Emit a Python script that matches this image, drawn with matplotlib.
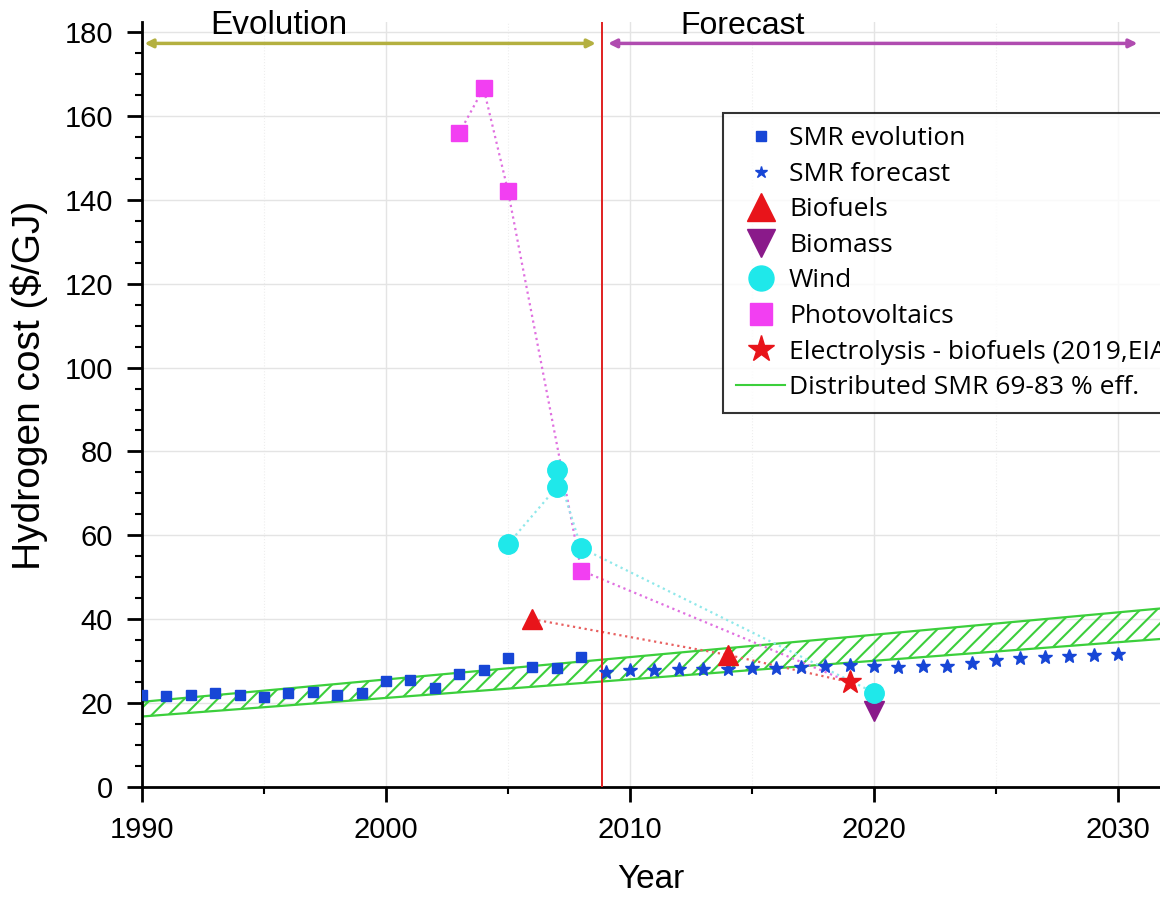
import numpy as np
import matplotlib
matplotlib.use("Agg")
import matplotlib.pyplot as plt
from matplotlib.lines import Line2D

# --- data ---
smr_evo_years = list(range(1990, 2009))
smr_evo_cost = [21.9, 21.7, 21.9, 22.4, 21.9, 21.4, 22.4, 22.7, 21.9, 22.4,
                25.2, 25.6, 23.6, 26.9, 27.8, 30.7, 28.7, 28.3, 31.1]

smr_fc_years = list(range(2009, 2031))
smr_fc_cost = [27.3, 27.9, 27.9, 28.1, 28.1, 28.1, 28.4, 28.4, 28.7, 28.9, 29.2,
               28.9, 28.7, 28.9, 28.9, 29.5, 30.3, 30.7, 31.1, 31.3, 31.4, 31.7]

biofuel_years = [2006, 2014]
biofuel_cost = [40.0, 31.5]

biomass_years = [2020]
biomass_cost = [18.0]

wind_years = [2005, 2007, 2007, 2008, 2020]
wind_cost = [57.9, 71.5, 75.6, 57.0, 22.5]

pv_years = [2003, 2004, 2005, 2008]
pv_cost = [155.9, 166.6, 142.1, 51.6]

elec_years = [2019]
elec_cost = [25.0]

band_years = [1990, 2032]
band_low = [16.8, 35.4]
band_high = [20.3, 42.7]

split_year = 2008.85

plt.rcParams['font.family'] = ['Liberation Sans', 'DejaVu Sans']
plt.rcParams['hatch.linewidth'] = 1.5

fig = plt.figure(figsize=(11.6, 9), dpi=100)
ax = fig.add_axes([0.1224, 0.1256, 0.8776, 0.8504])

c_blue = '#1746d6'
c_pink = '#f23ff2'
c_cyan = '#1fe8ea'
c_red = '#e8141a'
c_purple = '#8a1a8a'
c_green = '#3ccf3c'

# hatched band
ax.fill_between(band_years, band_low, band_high, facecolor='none',
                edgecolor=c_green, hatch='//', linewidth=0, zorder=2)
ax.plot(band_years, band_low, color=c_green, lw=1.6, zorder=2)
ax.plot(band_years, band_high, color=c_green, lw=1.6, zorder=2)

# dotted connectors
ax.plot(pv_years + elec_years, pv_cost + elec_cost, ':', color='#e070e0', lw=1.6, zorder=3)
ax.plot(wind_years, wind_cost, ':', color='#8fe8ea', lw=1.6, zorder=3)
ax.plot(biofuel_years + elec_years, biofuel_cost + elec_cost, ':', color='#e86060', lw=1.6, zorder=3)

ax.plot(smr_evo_years, smr_evo_cost, 's', color=c_blue, ms=7, ls='none', zorder=4)
ax.plot(smr_fc_years, smr_fc_cost, '*', color=c_blue, ms=10, ls='none', zorder=4)
ax.plot(biofuel_years, biofuel_cost, '^', color=c_red, ms=14, ls='none', zorder=4)
ax.plot(biomass_years, biomass_cost, 'v', color=c_purple, ms=14, ls='none', zorder=4)
ax.plot(wind_years, wind_cost, 'o', color=c_cyan, ms=14, ls='none', zorder=4)
ax.plot(pv_years, pv_cost, 's', color=c_pink, ms=12, ls='none', zorder=4)
ax.plot(elec_years, elec_cost, '*', color=c_red, ms=17, ls='none', zorder=4)

ax.axvline(split_year, color='#e02020', lw=1.4, zorder=3)

# period arrows
ax.annotate('', xy=(1990.1, 177.3), xytext=(split_year - 0.25, 177.3),
            arrowprops=dict(arrowstyle='<|-|>', color='#b4b040', lw=2.5,
                            mutation_scale=12, shrinkA=0, shrinkB=0))
ax.annotate('', xy=(split_year + 0.25, 177.3), xytext=(2030.8, 177.3),
            arrowprops=dict(arrowstyle='<|-|>', color='#b04cb0', lw=2.5,
                            mutation_scale=12, shrinkA=0, shrinkB=0))
ax.text(1995.6, 181.5, 'Evolution', fontsize=24, ha='center', va='center', clip_on=False)
ax.text(2014.6, 181.5, 'Forecast', fontsize=23, ha='center', va='center', clip_on=False)

ax.set_xlim(1990, 2031.72)
ax.set_ylim(0, 182.5)
ax.set_xticks([1990, 2000, 2010, 2020, 2030])
ax.set_xticks(np.arange(1995, 2031, 10), minor=True)
ax.set_yticks(np.arange(0, 181, 20))
ax.set_yticks(np.arange(0, 181, 5), minor=True)

ax.grid(True, which='major', color='#e4e4e4', lw=1.0, zorder=0)
ax.grid(True, which='minor', axis='x', color='#eeeeee', lw=0.8, ls=':', zorder=0)
ax.set_axisbelow(True)

for side in ['top', 'right']:
    ax.spines[side].set_visible(False)
for side in ['left', 'bottom']:
    ax.spines[side].set_linewidth(2)

ax.tick_params(which='major', direction='out', length=11, width=2, labelsize=21)
ax.tick_params(axis='y', which='major', pad=10)
ax.tick_params(axis='x', which='major', pad=10)
ax.tick_params(which='minor', direction='out', length=5, width=1.5)
ax.set_xlabel('Year', fontsize=24, labelpad=14)
ax.set_ylabel('Hydrogen cost ($/GJ)', fontsize=28)
ax.yaxis.set_label_coords(-0.092, 0.525)

handles = [
    Line2D([], [], marker='s', color=c_blue, ls='none', ms=7),
    Line2D([], [], marker='*', color=c_blue, ls='none', ms=9),
    Line2D([], [], marker='^', color=c_red, ls='none', ms=20),
    Line2D([], [], marker='v', color=c_purple, ls='none', ms=20),
    Line2D([], [], marker='o', color=c_cyan, ls='none', ms=18),
    Line2D([], [], marker='s', color=c_pink, ls='none', ms=16),
    Line2D([], [], marker='*', color=c_red, ls='none', ms=20),
    Line2D([], [], color=c_green, lw=1.5),
]
labels = ['SMR evolution', 'SMR forecast', 'Biofuels', 'Biomass', 'Wind',
          'Photovoltaics', 'Electrolysis - biofuels (2019,EIA)',
          'Distributed SMR 69-83 % eff.']
leg = ax.legend(handles, labels, loc='upper left',
                bbox_to_anchor=(723 / 1160, 1 - 113 / 900),
                bbox_transform=fig.transFigure, borderaxespad=0,
                prop={'family': 'Open Sans', 'size': 19},
                frameon=True, fancybox=False, edgecolor='black',
                handlelength=1.85, handletextpad=0.15, labelspacing=0.4,
                borderpad=0.5)
leg.get_frame().set_linewidth(1.5)

fig.savefig('out.png', dpi=100)
